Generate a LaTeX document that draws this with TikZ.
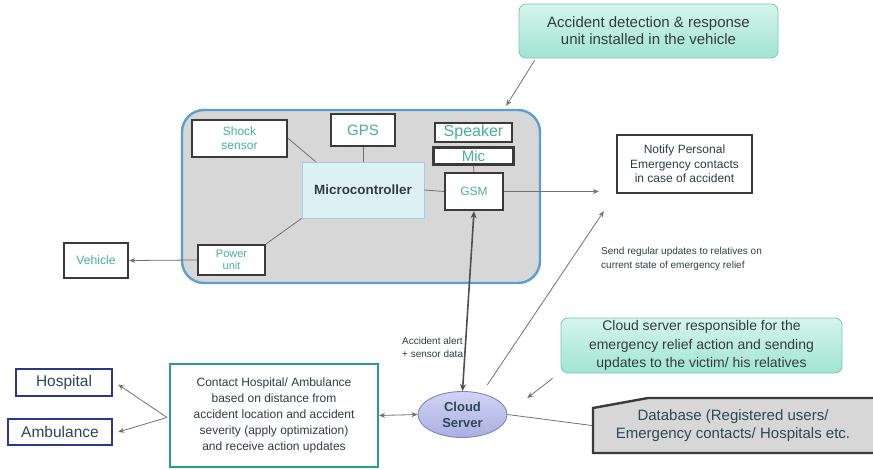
\documentclass[tikz,border=0pt]{standalone}
\usepackage{fontspec}
\setmainfont{Liberation Sans}
\usepackage{tikz}
\usetikzlibrary{positioning,arrows.meta,shapes.geometric,calc}
\usepackage{xcolor}
\definecolor{tealtxt}{RGB}{72,176,152}
\definecolor{darktxt}{RGB}{50,60,64}
\definecolor{slatetxt}{RGB}{44,72,84}
\definecolor{boxline}{RGB}{58,58,58}
\definecolor{unitline}{RGB}{92,158,208}
\definecolor{unitfill}{RGB}{215,215,215}
\definecolor{mcufill}{RGB}{221,240,244}
\definecolor{mculine}{RGB}{160,206,218}
\definecolor{notetop}{RGB}{214,245,235}
\definecolor{notebot}{RGB}{160,228,210}
\definecolor{noteline}{RGB}{120,200,178}
\definecolor{cloudtop}{RGB}{210,212,244}
\definecolor{cloudbot}{RGB}{170,175,224}
\definecolor{cloudline}{RGB}{125,132,190}
\definecolor{contactline}{RGB}{40,158,134}
\definecolor{hospline}{RGB}{42,56,140}
\definecolor{arrgray}{RGB}{112,112,112}
\newcommand{\fsz}[2]{\fontsize{#1}{#2}\selectfont}

\begin{document}
\begin{tikzpicture}[
  x=1pt, y=-1pt,
  part/.style={draw=boxline, line width=2.4pt, fill=white, align=center,
               text=tealtxt, inner sep=1pt},
  note/.style={draw=noteline, line width=0.8pt, rounded corners=7pt,
               top color=notetop, bottom color=notebot, align=center,
               text=darktxt, inner sep=2pt},
  thin line/.style={draw=arrgray, line width=0.8pt},
  arr/.style={thin line, -{Stealth[length=6pt,width=5pt]}},
  twoarr/.style={thin line, {Stealth[length=6pt,width=5pt]}-{Stealth[length=6pt,width=5pt]}},
  lbl/.style={align=left, text=darktxt, inner sep=0pt}
]
\useasboundingbox (0,0) rectangle (873,470);

% vehicle unit
\node[draw=unitline, line width=2.4pt, fill=unitfill, rounded corners=22pt,
      minimum width=358pt, minimum height=173pt] (unit) at (361,196.5) {};
\node[note, minimum width=259pt, minimum height=54pt, font=\fsz{15}{17}] (note1) at (648.5,31)
  {Accident detection \& response\\unit installed in the vehicle};

\node[draw=mculine, line width=0.9pt, fill=mcufill, minimum width=122pt,
      minimum height=56pt, font=\bfseries\fsz{13.4}{15}, text=darktxt] (mcu) at (363,190) {Microcontroller};
\node[part, minimum width=95pt, minimum height=37pt, font=\fsz{12}{14}] (shock) at (239.5,138.5) {Shock\\sensor};
\node[part, minimum width=64pt, minimum height=32pt, font=\fsz{15}{17}] (gps) at (363,130) {GPS};
\node[part, minimum width=77pt, minimum height=19pt, font=\fsz{16}{17}] (speaker) at (473.5,132.5) {Speaker};
\node[part, minimum width=80pt, minimum height=17pt, font=\fsz{15}{16}, below=3pt of speaker] (mic) {Mic};
\node[part, minimum width=58pt, minimum height=37pt, font=\fsz{12}{14}] (gsm) at (474,191.5) {GSM};
\node[part, minimum width=67pt, minimum height=30pt, font=\fsz{11}{12.5}] (power) at (231.5,260) {Power\\unit};
\node[part, minimum width=64pt, minimum height=35pt, font=\fsz{12.2}{14}] (vehicle) at (96,260.5) {Vehicle};

\node[part, minimum width=135pt, minimum height=58pt, text=darktxt, font=\fsz{12}{14.5}] (notify) at (684.5,164)
  {Notify Personal\\Emergency contacts\\in case of accident};
\node[lbl, anchor=west, font=\fsz{10}{14.5}] (updates) at (601,259)
  {Send regular updates to relatives on\\current state of emergency relief};

% cloud side
\node[ellipse, draw=cloudline, line width=0.9pt, top color=cloudtop, bottom color=cloudbot,
      minimum width=89pt, minimum height=46pt, inner sep=0pt, align=center,
      font=\bfseries\fsz{13}{16}, text=slatetxt] (cloud) at (462.5,414.5) {Cloud\\Server};
\node[lbl, anchor=west, font=\fsz{10}{13}] (alert) at (402,347) {Accident alert\\+ sensor data};
\node[note, minimum width=281pt, minimum height=55pt, font=\fsz{14}{18.5}] (note2) at (701.5,345.5)
  {Cloud server responsible for the\\emergency relief action and sending\\updates to the victim/ his relatives};

\filldraw[fill=unitfill, draw=boxline, line width=2.4pt]
  (593,408) -- (648,398) -- (880,398) -- (880,453) -- (593,453) -- cycle;
\node[align=center, text=slatetxt, font=\fsz{15}{18}, minimum width=280pt, minimum height=55pt,
      inner sep=0pt, outer sep=1.2pt] (db) at (733,425.5)
  {Database (Registered users/\\Emergency contacts/ Hospitals etc.};

\node[part, draw=contactline, line width=2pt, minimum width=208pt, minimum height=103pt,
      text=darktxt, font=\fsz{12}{16}] (contact) at (274,415.5)
  {Contact Hospital/ Ambulance\\based on distance from\\accident location and accident\\severity (apply optimization)\\and receive action updates};
\node[part, draw=hospline, minimum width=96pt, minimum height=27pt, text=slatetxt, font=\fsz{15.5}{17}] (hospital) at (64,382.5) {Hospital};
\node[part, draw=hospline, minimum width=104pt, minimum height=26pt, text=slatetxt, font=\fsz{15.5}{17}] (ambulance) at (60,432) {Ambulance};

% connections inside the unit
\draw[thin line] (shock.east) -- ($(mcu.north west)+(14,0)$);
\draw[thin line] (gps.south) -- (mcu.north);
\draw[thin line] (mic.south) -- (gsm.north);
\draw[thin line] (mcu.east) -- (gsm.west);
\draw[thin line] (power.north east) -- (mcu.south west);

% arrows
\draw[arr] ($(note1.south west)+(16,2)$) -- ($(unit.north east)+(-35,-3)$);
\draw[arr] (power.west) -- (vehicle.east);
\draw[arr] (gsm.east) -- ($(gsm.east -| notify.west)+(-17,0)$);
\draw[draw=boxline!90, line width=1.6pt, {Stealth[length=7pt,width=6pt]}-{Stealth[length=7pt,width=6pt]}]
  (gsm.south) -- (cloud.north);
\draw[arr] ($(cloud.north east)+(-7,-13)$) -- ($(notify.south west)+(-12,17)$);
\draw[arr] ($(note2.south west)+(-8,5)$) -- ($(cloud.north east)+(33,0)$);
\draw[thin line] (cloud.east) -- (db.west);
\draw[twoarr] (contact.east) -- (cloud.west);
\draw[arr] ($(contact.west)+(-2,2)$) -- ($(hospital.east)+(5,2)$);
\draw[arr] ($(contact.west)+(-2,2)$) -- ($(ambulance.east)+(5,0)$);
\end{tikzpicture}
\end{document}
